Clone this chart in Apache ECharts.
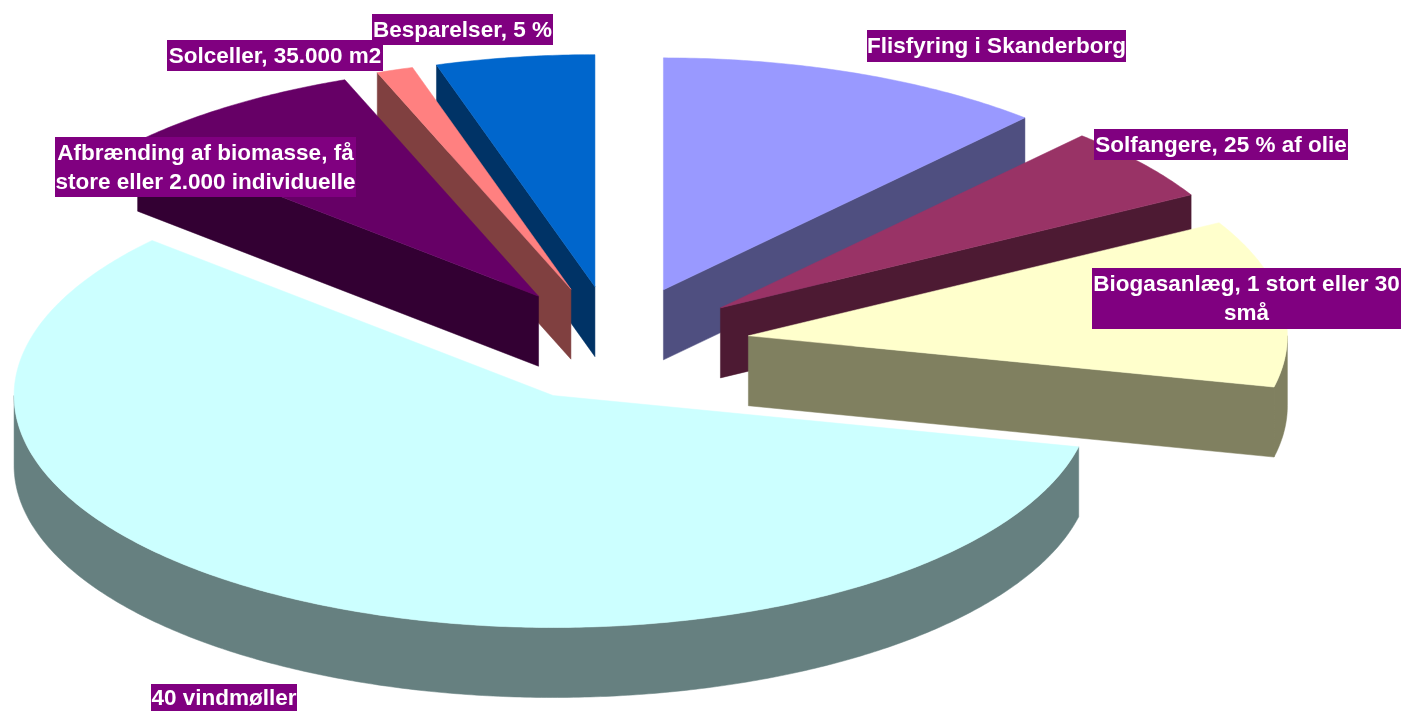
<!DOCTYPE html>
<html lang="da">

<head>
    <meta charset="UTF-8">
    <title>Energi</title>
    <script src="https://cdn.jsdelivr.net/npm/echarts@6/dist/echarts.min.js"></script>
    <style>
        body { margin: 0; background: #fff; }
    </style>
</head>

<body>
    <div id="main" style="width: 1402px; height: 711px;"></div>
    <script>
        // andele i procent, aflaest af billedet, med uret fra kl. 12
        const categories = ['Flisfyring i Skanderborg', 'Solfangere, 25 % af olie', 'Biogasanlæg, 1 stort eller 30\nsmå', '40 vindmøller', 'Afbrænding af biomasse, få\nstore eller 2.000 individuelle', 'Solceller, 35.000 m2', 'Besparelser, 5 %']
        const values = [11.7, 5.2, 11.65, 58.1, 7.5, 1.1, 4.75]
        const topColors = ['#9999ff', '#993366', '#ffffcc', '#ccffff', '#660066', '#ff8080', '#0066cc']
        const sideColors = ['#4f4f80', '#4d1a33', '#808060', '#668080', '#330033', '#804040', '#003366']

        // label boxes: x, y, width, height
        const labelBoxes = [
            [867, 30, 259, 32],
            [1094, 129, 254, 31],
            [1092, 268, 309, 61],
            [151, 684, 146, 27],
            [55, 137, 301, 60],
            [167, 40, 216, 31],
            [372, 14, 181, 31],
        ]
        // back slices first, the big one last
        const drawOrder = [3, 4, 5, 7, 6, 2, 1]

        const cx = 615
        const cy = 344
        const rx = 539
        const ry = 232
        const depth = 70
        const explode = 0.25

        const total = values.reduce((a, b) => a + b, 0)
        const angles = []
        let sum = 0
        for (const v of values) {
            angles.push([sum / total * Math.PI * 2, (sum + v) / total * Math.PI * 2])
            sum += v
        }

        const pointAt = (ox, oy, t) => [ox + rx * Math.sin(t), oy - ry * Math.cos(t)]

        const arcPoints = (ox, oy, a, b) => {
            let points = []
            let n = Math.max(2, Math.ceil((b - a) / 0.01))
            for (let i = 0; i <= n; i++) {
                points.push(pointAt(ox, oy, a + (b - a) * i / n))
            }
            return points
        }

        const down = (points) => points.map(p => [p[0], p[1] + depth])

        const poly = (points, fill, z2) => ({
            type: 'polygon',
            z2: z2,
            shape: { points: points },
            style: { fill: fill, stroke: fill, lineWidth: 0.5 },
        })

        const renderSlice = (params, api) => {
            let i = params.dataIndex
            let [a, b] = angles[i]
            let mid = (a + b) / 2
            let ox = cx + explode * rx * Math.sin(mid)
            let oy = cy - explode * ry * Math.cos(mid)
            let order = drawOrder[i] * 10
            let side = sideColors[i]
            let children = []

            // radial wall that faces the viewer
            if (b < Math.PI) {
                let p = pointAt(ox, oy, b)
                children.push(poly([[ox, oy], p, [p[0], p[1] + depth], [ox, oy + depth]], side, order))
            }
            if (a > Math.PI) {
                let p = pointAt(ox, oy, a)
                children.push(poly([[ox, oy], p, [p[0], p[1] + depth], [ox, oy + depth]], side, order))
            }
            // outer wall, only the front half of the ellipse
            let from = Math.max(a, Math.PI / 2)
            let to = Math.min(b, Math.PI * 3 / 2)
            if (to > from) {
                let arc = arcPoints(ox, oy, from, to)
                children.push(poly(arc.concat(down(arc).reverse()), side, order + 1))
            }
            // top
            children.push(poly([[ox, oy]].concat(arcPoints(ox, oy, a, b)), topColors[i], order + 2))

            return { type: 'group', children: children }
        }

        const renderLabel = (params, api) => {
            let i = params.dataIndex
            let [x, y, w, h] = labelBoxes[i]
            return {
                type: 'group',
                children: [
                    {
                        type: 'rect',
                        z2: 100,
                        shape: { x: x, y: y, width: w, height: h },
                        style: { fill: '#800080' },
                    },
                    {
                        type: 'text',
                        z2: 101,
                        style: {
                            x: x + w / 2,
                            y: y + h / 2 + 1,
                            text: categories[i],
                            fill: '#fff',
                            font: 'bold 22.5px "Liberation Sans", Arial, sans-serif',
                            lineHeight: 29,
                            align: 'center',
                            verticalAlign: 'middle',
                        },
                    },
                ],
            }
        }

        const myChart = echarts.init(document.querySelector('#main'))
        myChart.setOption({
            backgroundColor: '#fff',
            animation: false,
            series: [
                {
                    type: 'custom',
                    name: 'Andele',
                    coordinateSystem: 'none',
                    renderItem: renderSlice,
                    data: values,
                    silent: true,
                    z: 1,
                },
                {
                    type: 'custom',
                    name: 'Etiketter',
                    coordinateSystem: 'none',
                    renderItem: renderLabel,
                    data: categories,
                    silent: true,
                    z: 2,
                },
            ],
        })
    </script>
</body>

</html>
